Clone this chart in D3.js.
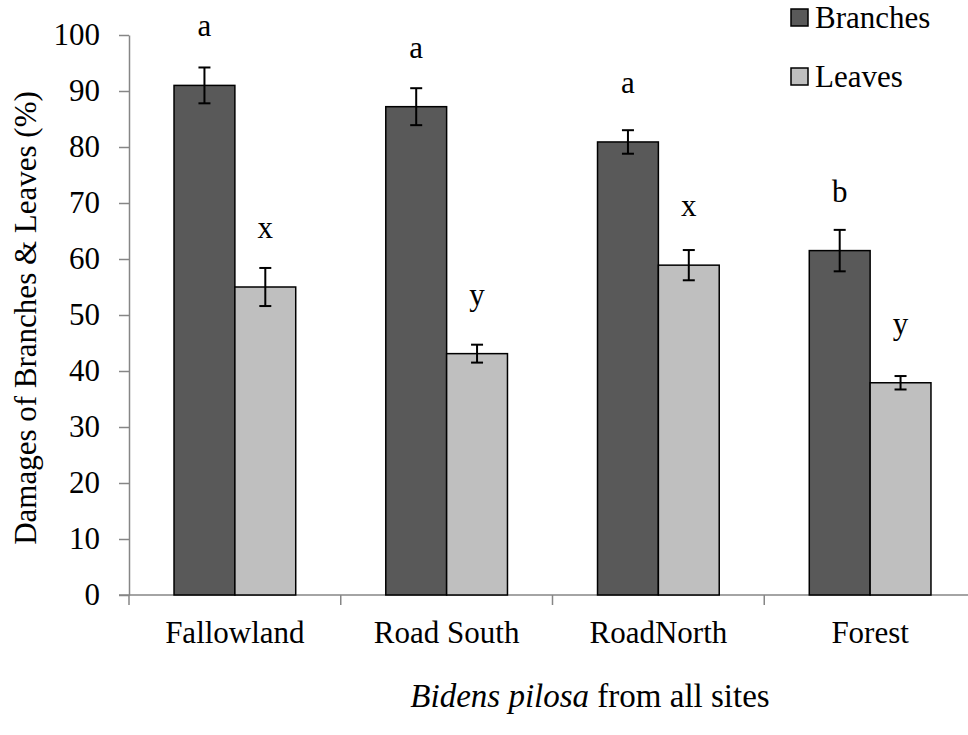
<!DOCTYPE html>
<html>
<head>
<meta charset="utf-8">
<script src="https://cdn.jsdelivr.net/npm/d3@7"></script>
<style>
  html, body { margin: 0; padding: 0; background: #fff; }
  svg text { font-family: "Liberation Serif", "Times New Roman", "DejaVu Serif", serif !important; fill: #000; }
</style>
</head>
<body>
<svg id="chart" width="968" height="735"></svg>
<script>
const categories = ["Fallowland", "Road South", "RoadNorth", "Forest"];
const seriesNames = ["Branches", "Leaves"];
const branches = [91.0, 87.2, 80.9, 61.5];
const leaves = [55.0, 43.1, 58.9, 37.9];
const branchErr = [3.2, 3.3, 2.1, 3.7];
const leafErr = [3.4, 1.6, 2.7, 1.2];
const branchLetters = ["a", "a", "a", "b"];
const leafLetters = ["x", "y", "x", "y"];
const yTicks = [0, 10, 20, 30, 40, 50, 60, 70, 80, 90, 100];

const colors = { Branches: "#595959", Leaves: "#bfbfbf" };
const FS = 31;

const rows = categories.map((c, i) => ({
  cat: c,
  items: [
    { s: "Branches", v: branches[i], e: branchErr[i], l: branchLetters[i] },
    { s: "Leaves", v: leaves[i], e: leafErr[i], l: leafLetters[i] }
  ]
}));

const svg = d3.select("#chart");
const mLeft = 129, mRight = 976, mTop = 35, mBottom = 595;

const y = d3.scaleLinear().domain([0, 100]).range([mBottom, mTop]);
const x0 = d3.scaleBand().domain(categories).range([mLeft, mRight]).paddingInner(0).paddingOuter(0);
const x1 = d3.scaleBand().domain(seriesNames).range([0, x0.bandwidth()]).paddingInner(0).paddingOuter(0.74);

const axisColor = "#868686";

// y axis
const yAxis = d3.axisLeft(y).tickValues(yTicks).tickSize(10).tickPadding(19).tickSizeOuter(0);
const gy = svg.append("g").attr("transform", `translate(${mLeft},0)`).call(yAxis);
gy.select(".domain").attr("stroke", axisColor).attr("stroke-width", 1.5);
gy.selectAll(".tick line").attr("stroke", axisColor).attr("stroke-width", 1.5);
gy.selectAll(".tick text").attr("font-size", FS);

// x axis
const xAxis = d3.axisBottom(x0).tickSize(0).tickPadding(26).tickSizeOuter(0);
const gx = svg.append("g").attr("transform", `translate(0,${mBottom})`).call(xAxis);
gx.select(".domain").attr("stroke", axisColor).attr("stroke-width", 1.5)
  .attr("d", `M${mLeft - 10},0H${mRight}`);
gx.selectAll(".tick text").attr("font-size", FS);
// boundary ticks between categories
const boundaries = categories.map(c => x0(c)).concat([x0(categories[categories.length - 1]) + x0.bandwidth()]);
gx.selectAll(".bline").data(boundaries).enter().append("line")
  .attr("x1", d => d).attr("x2", d => d).attr("y1", 0).attr("y2", 10)
  .attr("stroke", axisColor).attr("stroke-width", 1.5);

// bars
const groups = svg.append("g").selectAll("g").data(rows).enter().append("g")
  .attr("transform", d => `translate(${x0(d.cat)},0)`);

groups.selectAll("rect").data(d => d.items).enter().append("rect")
  .attr("x", d => x1(d.s))
  .attr("y", d => y(d.v))
  .attr("width", x1.bandwidth())
  .attr("height", d => y(0) - y(d.v))
  .attr("fill", d => colors[d.s])
  .attr("stroke", "#000").attr("stroke-width", 1.5);

// error bars
const eb = groups.selectAll("g.err").data(d => d.items).enter().append("g").attr("class", "err")
  .attr("stroke", "#000").attr("stroke-width", 2);
eb.append("line")
  .attr("x1", d => x1(d.s) + x1.bandwidth() / 2).attr("x2", d => x1(d.s) + x1.bandwidth() / 2)
  .attr("y1", d => y(d.v + d.e)).attr("y2", d => y(d.v - d.e));
eb.append("line")
  .attr("x1", d => x1(d.s) + x1.bandwidth() / 2 - 6).attr("x2", d => x1(d.s) + x1.bandwidth() / 2 + 6)
  .attr("y1", d => y(d.v + d.e)).attr("y2", d => y(d.v + d.e));
eb.append("line")
  .attr("x1", d => x1(d.s) + x1.bandwidth() / 2 - 6).attr("x2", d => x1(d.s) + x1.bandwidth() / 2 + 6)
  .attr("y1", d => y(d.v - d.e)).attr("y2", d => y(d.v - d.e));

// letters
groups.selectAll("text.letter").data(d => d.items).enter().append("text").attr("class", "letter")
  .attr("x", d => x1(d.s) + x1.bandwidth() / 2)
  .attr("y", d => y(d.v) - 49)
  .attr("text-anchor", "middle")
  .attr("font-size", FS)
  .text(d => d.l);

// y-axis title
svg.append("text")
  .attr("transform", `translate(36,318) rotate(-90)`)
  .attr("text-anchor", "middle")
  .attr("font-size", FS)
  .text("Damages of Branches & Leaves (%)");

// x-axis title
const xt = svg.append("text")
  .attr("x", 590).attr("y", 707)
  .attr("text-anchor", "middle")
  .attr("font-size", 33);
xt.append("tspan").attr("font-style", "italic").text("Bidens pilosa");
xt.append("tspan").text(" from all sites");

// legend
const legend = svg.append("g").selectAll("g").data(seriesNames).enter().append("g")
  .attr("transform", (d, i) => `translate(791,${9 + i * 59})`);
legend.append("rect").attr("width", 17).attr("height", 17)
  .attr("fill", d => colors[d]).attr("stroke", "#000").attr("stroke-width", 1.5);
legend.append("text").attr("x", 24).attr("y", 19).attr("font-size", FS).text(d => d);
</script>
</body>
</html>
